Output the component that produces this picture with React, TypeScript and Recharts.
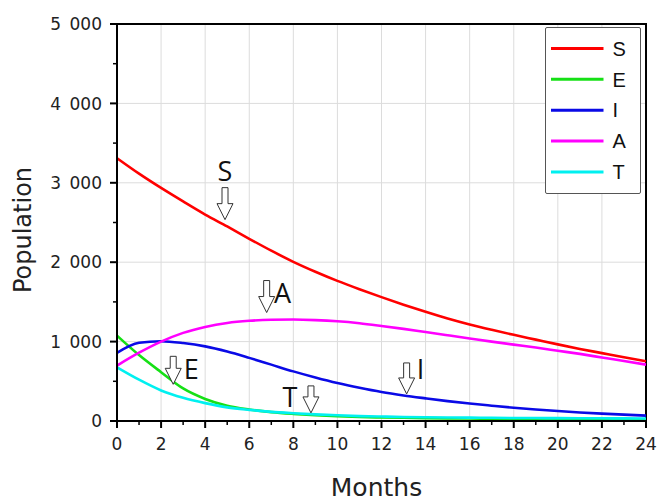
import React from 'react';
import {
  LineChart,
  Line,
  XAxis,
  YAxis,
  CartesianGrid,
  Legend,
  ReferenceDot,
  ReferenceArea,
} from 'recharts';

// months on the x axis
const MONTHS = [0, 1, 2, 3, 4, 5, 6, 7, 8, 9, 10, 11, 12, 13, 14, 15, 16, 17, 18, 19, 20, 21, 22, 23, 24];

// population per compartment
const S_VALUES = [3310, 3115, 2935, 2765, 2600, 2450, 2295, 2145, 2005, 1880, 1765, 1660, 1560, 1465, 1375, 1290, 1215, 1148, 1085, 1025, 965, 908, 855, 802, 752];
const E_VALUES = [1075, 830, 615, 410, 278, 192, 145, 112, 90, 73, 60, 50, 45, 40, 36, 33, 31, 29, 27, 26, 25, 24, 23, 22, 21];
const I_VALUES = [858, 985, 1005, 982, 940, 875, 795, 710, 625, 548, 478, 418, 365, 322, 285, 250, 220, 193, 167, 145, 125, 108, 93, 80, 68];
const A_VALUES = [698, 860, 1000, 1110, 1185, 1235, 1262, 1275, 1278, 1271, 1256, 1231, 1197, 1160, 1120, 1080, 1040, 1000, 962, 925, 885, 845, 800, 755, 710];
const T_VALUES = [676, 520, 385, 292, 225, 172, 140, 115, 98, 84, 72, 62, 56, 51, 47, 44, 42, 40, 38, 37, 36, 35, 34, 33, 32];

// labelled (major) ticks; every month and every 500 get a tick mark
const X_TICKS = [0, 2, 4, 6, 8, 10, 12, 14, 16, 18, 20, 22, 24];
const Y_TICKS = [0, 1000, 2000, 3000, 4000, 5000];
const Y_ALL_TICKS = [0, 500, 1000, 1500, 2000, 2500, 3000, 3500, 4000, 4500, 5000];

// arrow annotations: where each arrow tip points
const NOTE_LABELS = ['S', 'A', 'E', 'T', 'I'];
const NOTE_MONTHS = [4.9, 6.79, 2.55, 8.8, 13.14];
const NOTE_VALUES = [2536, 1366, 462, 102, 341];

const SERIES = [
  { key: 'S', color: '#ff0000', values: S_VALUES },
  { key: 'E', color: '#16e016', values: E_VALUES },
  { key: 'I', color: '#0a0ae6', values: I_VALUES },
  { key: 'A', color: '#ff00ff', values: A_VALUES },
  { key: 'T', color: '#00f0f0', values: T_VALUES },
];

const data = MONTHS.map((month, i) => {
  const row: Record<string, number> = { month };
  SERIES.forEach((s) => {
    row[s.key] = s.values[i];
  });
  return row;
});

// label offset relative to the arrow tip, and arrow length
const NOTE_LAYOUT: Record<string, { dx: number; dy: number; h: number }> = {
  S: { dx: 0, dy: -39, h: 32 },
  A: { dx: 16, dy: -10, h: 32 },
  E: { dx: 18, dy: -5, h: 28 },
  T: { dx: -21, dy: -6, h: 27 },
  I: { dx: 14, dy: -15, h: 31 },
};

const AXIS_FONT = '"DejaVu Sans", sans-serif';

function ArrowNote(props: any) {
  const { cx, cy, label } = props;
  const { dx, dy, h } = NOTE_LAYOUT[label];
  const head = 16;
  const path = [
    `M${cx - 3},${cy - h}`,
    `L${cx + 3},${cy - h}`,
    `L${cx + 3},${cy - head}`,
    `L${cx + 8},${cy - head}`,
    `L${cx},${cy}`,
    `L${cx - 8},${cy - head}`,
    `L${cx - 3},${cy - head}`,
    'Z',
  ].join(' ');
  return (
    <g>
      <path d={path} fill="#fff" stroke="#333" strokeWidth={1} />
      <text
        x={cx + dx}
        y={cy + dy}
        textAnchor="middle"
        fontFamily='"Open Sans", sans-serif'
        fontSize={27}
        fill="#111"
      >
        {label}
      </text>
    </g>
  );
}

// x tick: long mark + label on even months, short mark on odd ones
function MonthTick(props: any) {
  const { x, y, payload } = props;
  const v = payload.value;
  const major = X_TICKS.includes(v);
  return (
    <g>
      <line x1={x} x2={x} y1={y} y2={y + (major ? 7 : 4)} stroke="#000" strokeWidth={major ? 2 : 1.5} />
      {major && (
        <text x={x} y={y + 17} dy="0.71em" textAnchor="middle" fontFamily={AXIS_FONT} fontSize={17} fill="#222">
          {v}
        </text>
      )}
    </g>
  );
}

function PopTick(props: any) {
  const { x, y, payload } = props;
  const v = payload.value;
  const major = Y_TICKS.includes(v);
  return (
    <g>
      <line x1={x - (major ? 7 : 4)} x2={x} y1={y} y2={y} stroke="#000" strokeWidth={major ? 2 : 1.5} />
      {major && (
        <text x={x - 15} y={y} dy="0.36em" textAnchor="end" fontFamily={AXIS_FONT} fontSize={17} fill="#222">
          {v === 0 ? '0' : `${v / 1000}\u2002000`}
        </text>
      )}
    </g>
  );
}

// legend keeps the series order (S, E, I, A, T)
function LegendBox() {
  return (
    <div
      style={{
        width: 96,
        height: 167,
        boxSizing: 'border-box',
        border: '1.5px solid #555',
        borderRadius: 2,
        background: '#fff',
      }}
    >
      <svg width={93} height={164} style={{ display: 'block' }}>
        {SERIES.map((s, i) => {
          const y = 20.5 + i * 30.85;
          return (
            <g key={s.key}>
              <line x1={5} x2={57.5} y1={y} y2={y} stroke={s.color} strokeWidth={3} />
              <text
                x={66.5}
                y={y}
                dy="0.36em"
                fontFamily='"Liberation Sans", Arial, sans-serif'
                fontSize={20}
                fill="#111"
              >
                {s.key}
              </text>
            </g>
          );
        })}
      </svg>
    </div>
  );
}

export default function App() {
  return (
    <div style={{ position: 'absolute', left: 0, top: 0, width: 670, height: 501, background: '#fff' }}>
      <LineChart width={670} height={501} data={data} margin={{ top: 24, right: 24, bottom: 50, left: 0 }}>
        <CartesianGrid stroke="#dcdcdc" strokeWidth={1} verticalValues={X_TICKS} horizontalValues={Y_TICKS} />
        <XAxis
          type="number"
          dataKey="month"
          domain={[0, 24]}
          ticks={MONTHS}
          interval={0}
          height={30}
          tickSize={0}
          tickMargin={0}
          tickLine={false}
          axisLine={{ stroke: '#000', strokeWidth: 2 }}
          tick={<MonthTick />}
          label={{
            value: 'Months',
            position: 'bottom',
            offset: 27,
            dx: -5,
            fontFamily: AXIS_FONT,
            fontSize: 25,
            fill: '#222',
          }}
        />
        <YAxis
          type="number"
          domain={[0, 5000]}
          ticks={Y_ALL_TICKS}
          interval={0}
          width={117}
          tickSize={0}
          tickMargin={0}
          tickLine={false}
          axisLine={{ stroke: '#000', strokeWidth: 2 }}
          tick={<PopTick />}
          label={{
            content: () => (
              <text
                transform="translate(31,230) rotate(-90)"
                textAnchor="middle"
                fontFamily={AXIS_FONT}
                fontSize={24}
                fill="#222"
              >
                Population
              </text>
            ),
          }}
        />
        {SERIES.map((s) => (
          <Line
            key={s.key}
            type="monotone"
            dataKey={s.key}
            stroke={s.color}
            strokeWidth={2.6}
            dot={false}
            activeDot={false}
            isAnimationActive={false}
          />
        ))}
        <ReferenceArea x1={0} x2={24} y1={0} y2={5000} fill="none" stroke="#000" strokeWidth={2} />
        {NOTE_LABELS.map((label, i) => (
          <ReferenceDot
            key={label}
            x={NOTE_MONTHS[i]}
            y={NOTE_VALUES[i]}
            r={0}
            shape={(p: any) => <ArrowNote {...p} label={label} />}
          />
        ))}
        <Legend
          layout="vertical"
          align="center"
          verticalAlign="middle"
          wrapperStyle={{ left: 545, top: 27, width: 96, height: 167 }}
          content={() => <LegendBox />}
        />
      </LineChart>
    </div>
  );
}
